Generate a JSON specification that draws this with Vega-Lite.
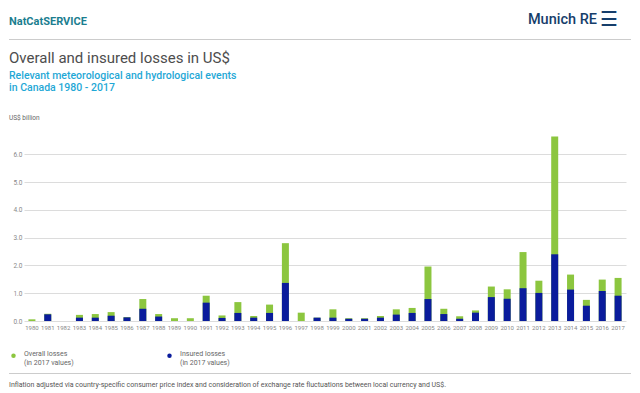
{
  "$schema": "https://vega.github.io/schema/vega-lite/v6.json",
  "width": 602,
  "height": 189,
  "autosize": {"type": "none"},
  "padding": {"left": 24, "top": 132, "right": 14, "bottom": 72},
  "background": "white",
  "config": {"view": {"stroke": null}, "font": "Roboto"},
  "datasets": {
    "losses": [
      {"year": 1980, "overall": 0.06, "insured": 0.0},
      {"year": 1981, "overall": 0.26, "insured": 0.24},
      {"year": 1982, "overall": 0.0, "insured": 0.0},
      {"year": 1983, "overall": 0.22, "insured": 0.12},
      {"year": 1984, "overall": 0.25, "insured": 0.12},
      {"year": 1985, "overall": 0.32, "insured": 0.19},
      {"year": 1986, "overall": 0.14, "insured": 0.13},
      {"year": 1987, "overall": 0.79, "insured": 0.44},
      {"year": 1988, "overall": 0.25, "insured": 0.16},
      {"year": 1989, "overall": 0.1, "insured": 0.0},
      {"year": 1990, "overall": 0.1, "insured": 0.0},
      {"year": 1991, "overall": 0.91, "insured": 0.66},
      {"year": 1992, "overall": 0.2, "insured": 0.11},
      {"year": 1993, "overall": 0.68, "insured": 0.29},
      {"year": 1994, "overall": 0.18, "insured": 0.12},
      {"year": 1995, "overall": 0.59, "insured": 0.29},
      {"year": 1996, "overall": 2.8, "insured": 1.37},
      {"year": 1997, "overall": 0.3, "insured": 0.0},
      {"year": 1998, "overall": 0.12, "insured": 0.12},
      {"year": 1999, "overall": 0.42, "insured": 0.12},
      {"year": 2000, "overall": 0.1, "insured": 0.08},
      {"year": 2001, "overall": 0.1, "insured": 0.08},
      {"year": 2002, "overall": 0.18, "insured": 0.12},
      {"year": 2003, "overall": 0.42, "insured": 0.23},
      {"year": 2004, "overall": 0.47, "insured": 0.29},
      {"year": 2005, "overall": 1.96, "insured": 0.79},
      {"year": 2006, "overall": 0.44, "insured": 0.25},
      {"year": 2007, "overall": 0.17, "insured": 0.08},
      {"year": 2008, "overall": 0.38, "insured": 0.3},
      {"year": 2009, "overall": 1.24, "insured": 0.86},
      {"year": 2010, "overall": 1.14, "insured": 0.8},
      {"year": 2011, "overall": 2.48, "insured": 1.18},
      {"year": 2012, "overall": 1.45, "insured": 1.01},
      {"year": 2013, "overall": 6.64, "insured": 2.4},
      {"year": 2014, "overall": 1.67, "insured": 1.13},
      {"year": 2015, "overall": 0.76, "insured": 0.55},
      {"year": 2016, "overall": 1.49, "insured": 1.08},
      {"year": 2017, "overall": 1.55, "insured": 0.91}
    ]
  },
  "layer": [
    {
      "data": {"name": "losses"},
      "transform": [{"fold": ["overall", "insured"], "as": ["series", "value"]}],
      "mark": {"type": "bar", "width": 7},
      "encoding": {
        "x": {
          "field": "year",
          "type": "ordinal",
          "scale": {"paddingInner": 0, "paddingOuter": 0},
          "axis": {
            "title": null,
            "labelAngle": 0,
            "labelFontSize": 6,
            "labelColor": "#888888",
            "labelPadding": 3,
            "labelOverlap": false,
            "labelBound": false,
            "domain": false,
            "ticks": false,
            "grid": false
          }
        },
        "y": {
          "field": "value",
          "type": "quantitative",
          "stack": null,
          "scale": {"domain": [0, 6.8], "nice": false},
          "axis": {
            "title": null,
            "values": [0, 1, 2, 3, 4, 5, 6],
            "format": ".1f",
            "labelFontSize": 6.5,
            "labelColor": "#888888",
            "labelPadding": 2,
            "domain": false,
            "ticks": false,
            "grid": true,
            "gridColor": "#dcdcdc",
            "gridWidth": 1
          }
        },
        "color": {
          "field": "series",
          "type": "nominal",
          "scale": {"domain": ["overall", "insured"], "range": ["#8cc63f", "#0a1c9c"]},
          "legend": {
            "orient": "none",
            "legendX": -14,
            "legendY": 220,
            "direction": "horizontal",
            "title": null,
            "padding": 0,
            "symbolType": "circle",
            "symbolSize": 20,
            "symbolStrokeWidth": 0,
            "labelFontSize": 7,
            "labelColor": "#666666",
            "labelOffset": 7,
            "labelBaseline": "alphabetic",
            "columnPadding": 92,
            "labelExpr": "datum.label == 'overall' ? ['Overall losses', '(in 2017 values)'] : ['Insured losses', '(in 2017 values)']"
          }
        }
      }
    },
    {
      "data": {"values": [{}]},
      "mark": {"type": "text", "align": "left", "baseline": "alphabetic", "fontSize": 11, "fontWeight": "bold", "color": "#1b7e8f"},
      "encoding": {"x": {"value": -15}, "y": {"value": -107}, "text": {"value": "NatCatSERVICE"}}
    },
    {
      "data": {"values": [{}]},
      "mark": {"type": "text", "align": "right", "baseline": "alphabetic", "fontSize": 14.5, "fontWeight": 500, "color": "#163e6b"},
      "encoding": {"x": {"value": 573}, "y": {"value": -108}, "text": {"value": "Munich RE"}}
    },
    {
      "data": {"values": [{}]},
      "mark": {"type": "text", "align": "left", "baseline": "alphabetic", "fontSize": 20, "color": "#163e6b"},
      "encoding": {"x": {"value": 576}, "y": {"value": -106}, "text": {"value": "☰"}}
    },
    {
      "data": {"values": [{}]},
      "mark": {"type": "rule", "color": "#cccccc", "strokeWidth": 1},
      "encoding": {"x": {"value": -15}, "x2": {"value": 607}, "y": {"value": -92.5}}
    },
    {
      "data": {"values": [{}]},
      "mark": {"type": "text", "align": "left", "baseline": "alphabetic", "fontSize": 15, "color": "#4d4d4d"},
      "encoding": {"x": {"value": -15}, "y": {"value": -68.7}, "text": {"value": "Overall and insured losses in US$"}}
    },
    {
      "data": {"values": [{}]},
      "mark": {"type": "text", "align": "left", "baseline": "alphabetic", "fontSize": 10.5, "fontWeight": 500, "color": "#1fa8d6"},
      "encoding": {"x": {"value": -15}, "y": {"value": -53}, "text": {"value": "Relevant meteorological and hydrological events"}}
    },
    {
      "data": {"values": [{}]},
      "mark": {"type": "text", "align": "left", "baseline": "alphabetic", "fontSize": 10.5, "fontWeight": 500, "color": "#1fa8d6"},
      "encoding": {"x": {"value": -15}, "y": {"value": -40.7}, "text": {"value": "in Canada 1980 - 2017"}}
    },
    {
      "data": {"values": [{}]},
      "mark": {"type": "text", "align": "left", "baseline": "alphabetic", "fontSize": 6.5, "color": "#666666"},
      "encoding": {"x": {"value": -15}, "y": {"value": -12}, "text": {"value": "US$ billion"}}
    },
    {
      "data": {"values": [{}]},
      "mark": {"type": "rule", "color": "#cccccc", "strokeWidth": 1},
      "encoding": {"x": {"value": -15}, "x2": {"value": 607}, "y": {"value": 241.5}}
    },
    {
      "data": {"values": [{}]},
      "mark": {"type": "text", "align": "left", "baseline": "alphabetic", "fontSize": 7, "color": "#555555"},
      "encoding": {"x": {"value": -15}, "y": {"value": 254.5}, "text": {"value": "Inflation adjusted via country-specific consumer price index and consideration of exchange rate fluctuations between local currency and US$."}}
    }
  ]
}
